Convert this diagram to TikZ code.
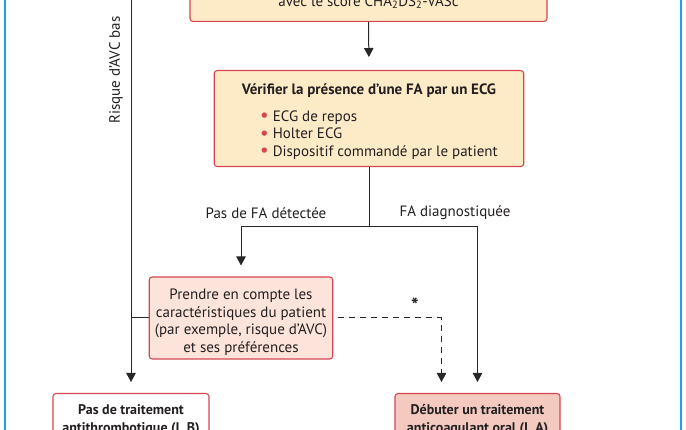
\documentclass[tikz,border=0pt]{standalone}
\usepackage{fontspec}
\setmainfont{PT Sans}
\usetikzlibrary{arrows.meta,positioning}
\definecolor{framblue}{RGB}{29,161,224}
\definecolor{boxred}{RGB}{214,69,80}
\definecolor{orangefill}{RGB}{253,235,200}
\definecolor{pinkfill}{RGB}{252,228,218}
\definecolor{salmonfill}{RGB}{243,201,192}
\definecolor{linedark}{RGB}{40,40,40}
\definecolor{textdark}{RGB}{35,31,32}
\newcommand{\redbul}{{\color{boxred}\smash{\raisebox{-0.5pt}{\fontsize{19}{10}\selectfont\textbullet}}}\ }

\begin{document}
\begin{tikzpicture}[x=1pt,y=-1pt,
    font=\fontsize{15}{17.6}\selectfont, text=textdark,
    box/.style={draw=boxred,line width=1.1pt,rounded corners=3pt,align=center},
    arr/.style={draw=linedark,line width=1pt,-{Triangle[length=9pt,width=9.5pt]},shorten >=11pt},
    link/.style={draw=linedark,line width=1pt}]
\useasboundingbox (0,0) rectangle (686,430);
\draw[framblue,line width=1.6pt] (5,-10) rectangle (681,440);

\node[box,fill=orangefill,minimum width=357pt,inner ysep=5pt,text height=40pt,text depth=10pt,anchor=south] (score) at (368.5,22) {avec le score CHA\textsubscript{2}DS\textsubscript{2}-VASc};
\node[box,fill=orangefill,minimum width=309.5pt,minimum height=96pt,anchor=north] (ecg) at (369,70) {\rule{0pt}{19pt}\textbf{Vérifier la présence d'une FA par un ECG}\\[10.5pt]
    \hspace*{20pt}\begin{tabular}{@{}l@{}}\redbul ECG de repos\\ \redbul Holter ECG\\ \redbul Dispositif commandé par le patient\end{tabular}};
\node[box,fill=pinkfill,minimum width=183.5pt,minimum height=82pt] (prise) at (241,318) {\rule{0pt}{19pt}Prendre en compte les\\caractéristiques du patient\\(par exemple, risque d'AVC)\\et ses préférences};
\node[box,fill=white,minimum width=156pt,inner ysep=11pt,anchor=north,font=\fontsize{14}{17.6}\selectfont\bfseries] (notreat) at (131,393) {Pas de traitement\\antithrombotique (I, B)};
\node[box,fill=salmonfill,minimum width=165pt,inner ysep=11pt,anchor=north,font=\fontsize{14}{17.6}\selectfont\bfseries] (anticoag) at (477.5,393) {Débuter un traitement\\anticoagulant oral (I, A)};

\node (nofa) at (266,213) {Pas de FA détectée};
\node (fadiag) at (455,213) {FA diagnostiquée};
\node[rotate=90] (risk) at (116,70) {Risque d'AVC bas};
\node[font=\fontsize{20}{20}\selectfont\bfseries] (star) at (415,305) {*};

\coordinate (split) at (369,227);
\coordinate (risktop) at (131,-5);

\draw[arr,shorten >=13pt] (score.south) -- (ecg.north);
\draw[link] (ecg.south) -- (split);
\draw[arr] (split) -| (prise.north);
\draw[arr] (split) -| (anticoag.north);
\draw[arr] (risktop) -- (notreat.north);
\draw[link] (prise.west) -- (prise.west -| risktop);
\draw[arr,dash pattern=on 6pt off 5pt] ([xshift=5pt]prise.east) -| ([xshift=-36pt]anticoag.north);
\end{tikzpicture}
\end{document}
